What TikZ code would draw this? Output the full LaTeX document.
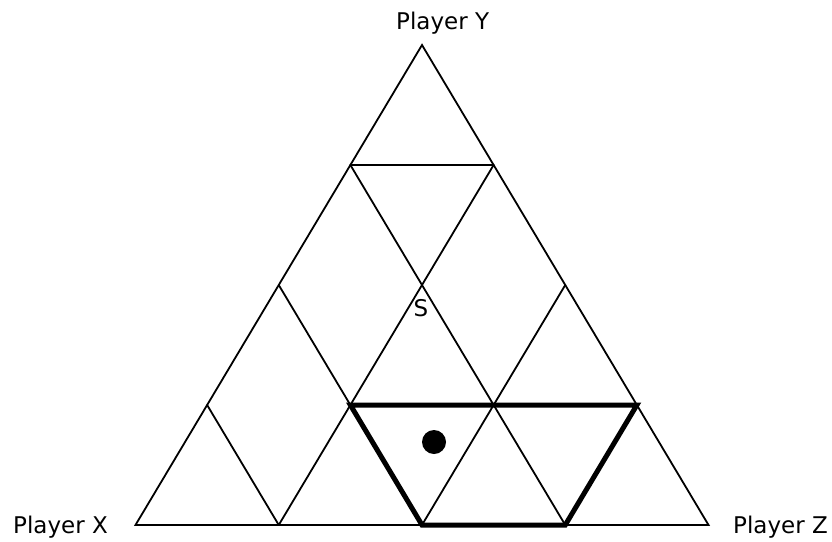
\documentclass[tikz,border=0pt]{standalone}
\usepackage{fontspec}
\usepackage{tikz}
\newfontfamily\labelfont{DejaVu Sans}

\begin{document}
\begin{tikzpicture}[x=1pt, y=-1pt,
    grid/.style={line width=1.8pt, line cap=round},
    region/.style={line width=5pt, line join=miter},
    lbl/.style={font=\labelfont\fontsize{23}{28}\selectfont, inner sep=0pt}]
  \useasboundingbox (0,0) rectangle (832,541);
  % Lattice points, row r from the top
  \foreach \r in {0,...,4}
    \foreach \i in {0,...,\r}
      \coordinate (p\r\i) at ({422-71.625*\r+143.25*\i},{45+120*\r});
  % Outer triangle
  \draw[grid, line join=miter] (p00) -- (p40) -- (p44) -- cycle;
  % Inner lines
  \draw[grid] (p10) -- (p11);
  \draw[grid] (p10) -- (p43);
  \draw[grid] (p11) -- (p41);
  \draw[grid] (p20) -- (p31);
  \draw[grid] (p22) -- (p42);
  \draw[grid] (p30) -- (p41);
  % Highlighted region
  \draw[region] (p31) -- (p33) -- (p43) -- (p42) -- cycle;
  \fill (434,442) circle (12);
  % Labels
  \node[lbl, anchor=base west] (playerY) at (396,29) {Player Y};
  \node[lbl, anchor=base west] (playerX) at (13,533) {Player X};
  \node[lbl, anchor=base west] (playerZ) at (733,533) {Player Z};
  \node[lbl] (start) at (421,308) {S};
\end{tikzpicture}
\end{document}
